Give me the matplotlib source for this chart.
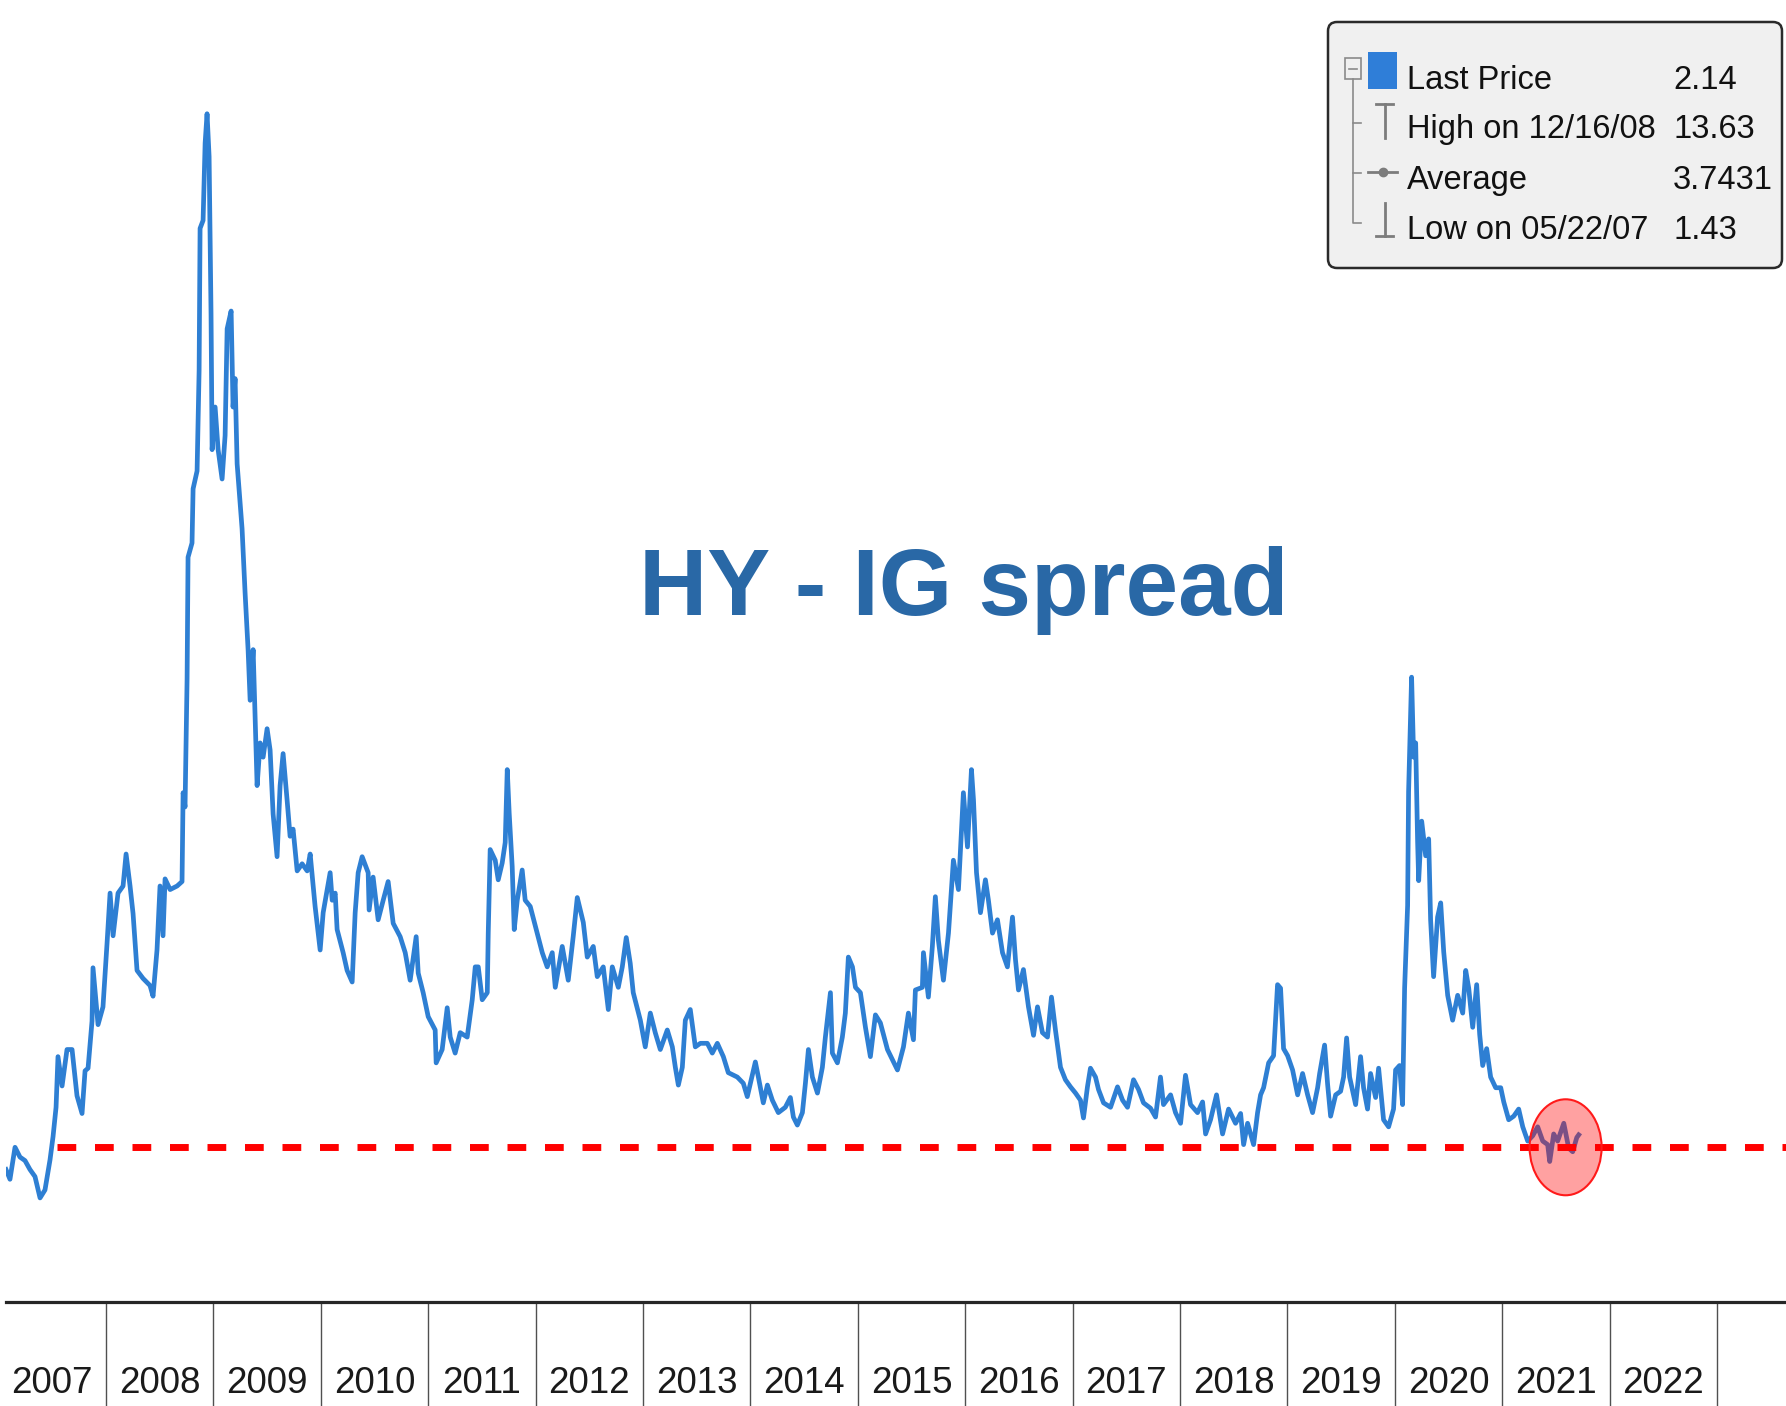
import matplotlib
matplotlib.use("Agg")
import matplotlib.pyplot as plt
from matplotlib.patches import Ellipse, FancyBboxPatch, Rectangle

plt.rcParams['font.family'] = ['Liberation Sans', 'DejaVu Sans']

# ---- data (x in decimal years) ----
years = [
    2007.069, 2007.106, 2007.153, 2007.199, 2007.246, 2007.292, 2007.339, 2007.386,
    2007.432, 2007.479, 2007.507, 2007.535, 2007.553, 2007.591, 2007.637, 2007.684,
    2007.730, 2007.777, 2007.805, 2007.833, 2007.870, 2007.879, 2007.926, 2007.972,
    2008.010, 2008.038, 2008.066, 2008.112, 2008.159, 2008.187, 2008.224, 2008.252,
    2008.289, 2008.345, 2008.410, 2008.438, 2008.475, 2008.503, 2008.531, 2008.550,
    2008.597, 2008.662, 2008.708, 2008.718, 2008.736, 2008.755, 2008.764, 2008.801,
    2008.811, 2008.848, 2008.867, 2008.876, 2008.904, 2008.923, 2008.941, 2008.960,
    2008.978, 2008.988, 2009.016, 2009.044, 2009.081, 2009.109, 2009.128, 2009.165,
    2009.183, 2009.202, 2009.221, 2009.267, 2009.295, 2009.323, 2009.342, 2009.370,
    2009.407, 2009.435, 2009.463, 2009.500, 2009.528, 2009.556, 2009.593, 2009.621,
    2009.649, 2009.686, 2009.714, 2009.742, 2009.780, 2009.826, 2009.873, 2009.901,
    2009.947, 2009.994,
    2010.022, 2010.087, 2010.106, 2010.134, 2010.152, 2010.208, 2010.245, 2010.292,
    2010.320, 2010.348, 2010.385, 2010.441, 2010.450, 2010.487, 2010.534, 2010.581,
    2010.627, 2010.674, 2010.739, 2010.786, 2010.832, 2010.888, 2010.907, 2010.953,
    2011.000, 2011.065, 2011.074, 2011.130, 2011.177, 2011.205, 2011.251, 2011.298,
    2011.363, 2011.410, 2011.438, 2011.466, 2011.503, 2011.550, 2011.559, 2011.577,
    2011.624, 2011.652, 2011.689, 2011.717, 2011.736, 2011.754, 2011.782, 2011.801,
    2011.829, 2011.875, 2011.903, 2011.950, 2012.015, 2012.062, 2012.108, 2012.155,
    2012.183, 2012.248, 2012.304, 2012.350, 2012.388, 2012.444, 2012.481, 2012.537,
    2012.574, 2012.630, 2012.677, 2012.714, 2012.770, 2012.807, 2012.844, 2012.881,
    2012.909, 2012.975, 2013.021, 2013.068, 2013.114, 2013.161, 2013.226, 2013.273,
    2013.301, 2013.329, 2013.366, 2013.394, 2013.440, 2013.487, 2013.534, 2013.599,
    2013.645, 2013.692, 2013.748, 2013.794, 2013.878, 2013.934,
    2013.971, 2014.046, 2014.074, 2014.120, 2014.158, 2014.204, 2014.260, 2014.325,
    2014.372, 2014.400, 2014.437, 2014.484, 2014.512, 2014.540, 2014.577, 2014.624,
    2014.670, 2014.698, 2014.745, 2014.763, 2014.810, 2014.856, 2014.884, 2014.912,
    2014.950, 2014.978, 2015.024, 2015.071, 2015.117, 2015.164, 2015.210, 2015.276,
    2015.369, 2015.425, 2015.471, 2015.518, 2015.536, 2015.601, 2015.611, 2015.657,
    2015.694, 2015.722, 2015.750, 2015.797, 2015.844, 2015.890, 2015.937, 2015.983,
    2016.021, 2016.058, 2016.077, 2016.105, 2016.142, 2016.188, 2016.216, 2016.254,
    2016.300, 2016.347, 2016.393, 2016.440, 2016.468, 2016.496, 2016.542, 2016.589,
    2016.636, 2016.673, 2016.719, 2016.766, 2016.803, 2016.840, 2016.887, 2016.933,
    2016.980, 2017.027, 2017.073, 2017.101, 2017.138, 2017.166, 2017.213, 2017.241,
    2017.288, 2017.353, 2017.418, 2017.465, 2017.511, 2017.567, 2017.614, 2017.660,
    2017.725, 2017.772,
    2017.818, 2017.846, 2017.912, 2017.958, 2018.005, 2018.051, 2018.098, 2018.163,
    2018.210, 2018.238, 2018.284, 2018.340, 2018.396, 2018.452, 2018.517, 2018.564,
    2018.592, 2018.629, 2018.685, 2018.722, 2018.750, 2018.778, 2018.825, 2018.871,
    2018.908, 2018.936, 2018.964, 2019.002, 2019.048, 2019.095, 2019.141, 2019.188,
    2019.234, 2019.281, 2019.300, 2019.346, 2019.374, 2019.402, 2019.449, 2019.495,
    2019.523, 2019.551, 2019.579, 2019.635, 2019.681, 2019.709, 2019.746, 2019.774,
    2019.821, 2019.849, 2019.895, 2019.942, 2019.988, 2020.007, 2020.044, 2020.072,
    2020.091, 2020.119, 2020.128, 2020.156, 2020.175, 2020.194, 2020.212, 2020.222,
    2020.250, 2020.287, 2020.315, 2020.333, 2020.361, 2020.398, 2020.427, 2020.455,
    2020.492, 2020.538, 2020.585, 2020.632, 2020.660, 2020.688, 2020.725, 2020.762,
    2020.790, 2020.818, 2020.855, 2020.892, 2020.939, 2020.986, 2021.014, 2021.060,
    2021.107, 2021.153, 2021.191, 2021.237, 2021.284, 2021.330, 2021.377, 2021.423,
    2021.442, 2021.479, 2021.516, 2021.573, 2021.619, 2021.656, 2021.694, 2021.712,
]

spread = [
    1.75, 1.64, 2.00, 1.89, 1.85, 1.75, 1.67, 1.43,
    1.52, 1.86, 2.12, 2.45, 3.02, 2.69, 3.10, 3.10,
    2.58, 2.38, 2.86, 2.89, 3.42, 4.02, 3.38, 3.58,
    4.30, 4.86, 4.38, 4.86, 4.94, 5.30, 4.94, 4.63,
    3.99, 3.90, 3.82, 3.70, 4.22, 4.94, 4.38, 5.02,
    4.90, 4.94, 4.99, 5.99, 5.83, 7.27, 8.64, 8.80,
    9.41, 9.61, 10.74, 12.34, 12.43, 13.30, 13.63, 13.15,
    11.38, 9.85, 10.33, 9.85, 9.52, 10.01, 11.21, 11.41,
    10.33, 10.65, 9.69, 8.96, 8.24, 7.60, 7.03, 7.60,
    6.07, 6.55, 6.39, 6.71, 6.47, 5.75, 5.27, 6.07,
    6.43, 5.91, 5.50, 5.58, 5.11, 5.19, 5.11, 5.30,
    4.71, 4.22,
    4.64, 5.09, 4.78, 4.86, 4.45, 4.19, 3.99, 3.86,
    4.64, 5.09, 5.27, 5.09, 4.67, 5.04, 4.56, 4.78,
    4.99, 4.52, 4.37, 4.19, 3.88, 4.37, 3.96, 3.74,
    3.47, 3.32, 2.95, 3.10, 3.57, 3.24, 3.06, 3.29,
    3.24, 3.66, 4.03, 4.03, 3.66, 3.74, 4.41, 5.35,
    5.23, 5.01, 5.20, 5.43, 6.25, 5.76, 5.16, 4.45,
    4.78, 5.12, 4.78, 4.71, 4.41, 4.19, 4.03, 4.19,
    3.80, 4.26, 3.88, 4.37, 4.81, 4.53, 4.14, 4.26,
    3.92, 4.03, 3.55, 4.03, 3.80, 4.03, 4.36, 4.07,
    3.74, 3.43, 3.13, 3.51, 3.29, 3.10, 3.32, 3.13,
    2.90, 2.70, 2.90, 3.43, 3.55, 3.13, 3.17, 3.17,
    3.06, 3.17, 3.02, 2.84, 2.79, 2.72,
    2.57, 2.96, 2.79, 2.50, 2.70, 2.53, 2.39, 2.45,
    2.56, 2.34, 2.25, 2.39, 2.72, 3.10, 2.79, 2.61,
    2.90, 3.24, 3.74, 3.06, 2.95, 3.24, 3.51, 4.14,
    4.03, 3.80, 3.74, 3.35, 3.02, 3.49, 3.40, 3.10,
    2.87, 3.13, 3.51, 3.21, 3.77, 3.80, 4.19, 3.69,
    4.26, 4.82, 4.33, 3.88, 4.41, 5.23, 4.90, 5.99,
    5.38, 6.25, 5.91, 5.09, 4.64, 5.01, 4.78, 4.41,
    4.56, 4.19, 4.03, 4.59, 4.11, 3.77, 4.00, 3.58,
    3.26, 3.58, 3.29, 3.24, 3.69, 3.32, 2.90, 2.76,
    2.68, 2.61, 2.53, 2.33, 2.68, 2.89, 2.79, 2.65,
    2.50, 2.45, 2.68, 2.53, 2.45, 2.76, 2.65, 2.50,
    2.44, 2.34,
    2.79, 2.48, 2.59, 2.39, 2.27, 2.81, 2.48, 2.39,
    2.51, 2.15, 2.31, 2.59, 2.15, 2.43, 2.27, 2.38,
    2.03, 2.27, 2.03, 2.39, 2.59, 2.67, 2.95, 3.03,
    3.83, 3.79, 3.11, 3.03, 2.87, 2.59, 2.83, 2.59,
    2.39, 2.67, 2.83, 3.15, 2.71, 2.35, 2.59, 2.63,
    2.79, 3.23, 2.79, 2.48, 3.02, 2.67, 2.43, 2.83,
    2.56, 2.89, 2.31, 2.23, 2.43, 2.87, 2.92, 2.48,
    3.79, 4.72, 6.00, 7.29, 6.39, 6.55, 5.44, 5.00,
    5.67, 5.28, 5.47, 4.56, 3.92, 4.59, 4.75, 4.20,
    3.71, 3.43, 3.71, 3.51, 3.99, 3.79, 3.35, 3.83,
    3.27, 2.92, 3.11, 2.79, 2.67, 2.67, 2.51, 2.31,
    2.35, 2.43, 2.23, 2.07, 2.13, 2.23, 2.07, 2.03,
    1.84, 2.15, 2.07, 2.27, 1.99, 1.95, 2.11, 2.14,
]

year_labels = [str(y) for y in range(2007, 2023)]
year_starts = list(range(2008, 2024))
x_range = (2007.069, 2023.642)
y_range = (0.259, 14.91)

ref_level = 2.0            # red dashed line
ref_start = 2007.544
circle_center = (2021.59, 2.0)
circle_size = (0.67, 1.08)  # width in years, height in spread units

legend_names = ["Last Price", "High on 12/16/08", "Average", "Low on 05/22/07"]
legend_values = ["2.14", "13.63", "3.7431", "1.43"]

title = "HY - IG spread"

blue = '#2e7fd3'

# ---- figure ----
W, H = 1786, 1406
fig = plt.figure(figsize=(W / 100, H / 100), dpi=100)
ax = fig.add_axes([6 / W, 104 / H, 1780 / W, 1302 / H])
ax.set_xlim(*x_range)
ax.set_ylim(*y_range)

ax.plot(years, spread, color=blue, lw=3.4, zorder=3)
ax.plot([ref_start, x_range[1]], [ref_level, ref_level], color='#ff0000',
        lw=5, dashes=(2.7, 2.7), dash_capstyle='butt', zorder=4)
ax.add_patch(Ellipse(circle_center, circle_size[0], circle_size[1],
                     facecolor=(1, 0, 0, 0.37), edgecolor='#ff1a1a', lw=1.5, zorder=5))

for s in ['top', 'left', 'right']:
    ax.spines[s].set_visible(False)
ax.spines['bottom'].set_linewidth(2.3)
ax.spines['bottom'].set_color('#262626')
ax.set_yticks([])

# year dividers as long major ticks, labels on minor ticks mid-year
ax.set_xticks(year_starts)
ax.set_xticklabels([])
ax.tick_params(axis='x', which='major', length=75, width=1.0, color='#505050', direction='out')
ax.set_xticks([int(y) + 0.5 for y in year_labels], minor=True)
ax.set_xticklabels(year_labels, minor=True, fontsize=26.5, color='#1a1a1a')
ax.tick_params(axis='x', which='minor', length=0, pad=46)

fig.text(964 / W, 1 - 615 / H, title, ha='center', va='baseline',
         fontsize=68, fontweight='bold', color='#2968a6')

# ---- legend box (pixel coordinates inside its own axes) ----
lx0, lx1, ly0, ly1 = 1324, 1786, 18, 272
lg = fig.add_axes([lx0 / W, 1 - ly1 / H, (lx1 - lx0) / W, (ly1 - ly0) / H])
lg.set_xlim(lx0, lx1)
lg.set_ylim(ly1, ly0)
lg.axis('off')
lg.add_patch(FancyBboxPatch((1328, 22), 454, 246, boxstyle='round,pad=0,rounding_size=9',
                            facecolor='#f0f0f0', edgecolor='#2a2a2a', lw=1.8))
grey = '#8a8a8a'
lg.add_patch(Rectangle((1345, 58), 16, 21, facecolor='none', edgecolor=grey, lw=1.2))
lg.plot([1349, 1357], [68.5, 68.5], color=grey, lw=1.2)
lg.plot([1353, 1353, 1361], [79, 223, 223], color=grey, lw=1.2)
lg.plot([1353, 1361], [123, 123], color=grey, lw=1.2)
lg.plot([1353, 1361], [173, 173], color=grey, lw=1.2)
lg.add_patch(Rectangle((1368, 52), 29, 37, facecolor='#2f7ed8', edgecolor='none'))
mk = '#7c7c7c'
lg.plot([1384.5, 1384.5], [104, 138], color=mk, lw=2)
lg.plot([1376, 1393], [104, 104], color=mk, lw=2)
lg.plot([1368, 1397], [172, 172], color=mk, lw=2)
lg.plot([1383], [172], marker='o', ms=6, color=mk)
lg.plot([1384.5, 1384.5], [203, 236], color=mk, lw=2)
lg.plot([1376, 1393], [236, 236], color=mk, lw=2)

row_y = [89, 138, 189, 239]
for name, val, yb in zip(legend_names, legend_values, row_y):
    lg.text(1407, yb, name, fontsize=23.5, color='#111111', va='baseline', ha='left')
    lg.text(1673, yb, val, fontsize=23.5, color='#111111', va='baseline', ha='left')

fig.savefig('out.png', dpi=100)
